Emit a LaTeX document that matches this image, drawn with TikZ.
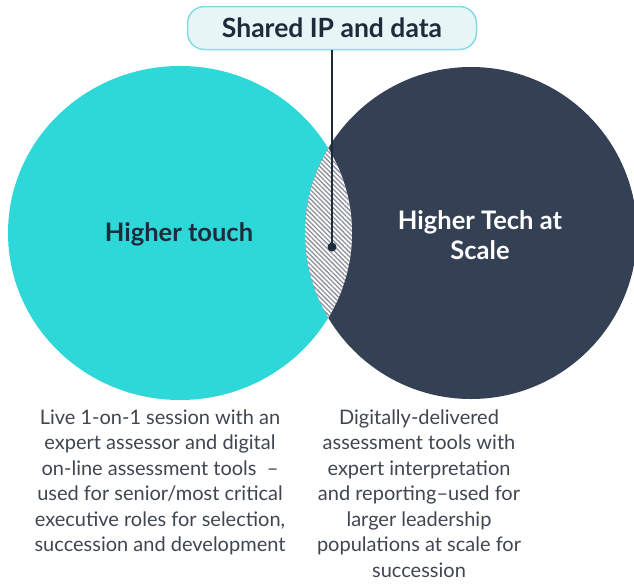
\documentclass[tikz,border=0pt]{standalone}
\usepackage{fontspec}
\setmainfont{Lato}
\usetikzlibrary{patterns.meta}
\definecolor{cyanc}{HTML}{2ED8D8}
\definecolor{navyc}{HTML}{344155}
\definecolor{inkc}{HTML}{1D2B3A}
\definecolor{bodyc}{HTML}{3F4650}
\definecolor{boxfill}{HTML}{E6F6F7}
\definecolor{boxline}{HTML}{86DCE2}
\definecolor{hatchc}{HTML}{8C919A}
\tikzset{
  sharedbox/.style={draw=boxline, line width=1.5pt, fill=boxfill, rounded corners=17pt,
    minimum width=289pt, minimum height=43pt, inner sep=0pt,
    font=\fontsize{26.5}{30}\selectfont\bfseries, text=inkc},
  circlabel/.style={font=\fontsize{25.5}{30}\selectfont\bfseries, align=center},
  bodytext/.style={font=\fontsize{20}{25.5}\selectfont, text=bodyc, align=center},
  dotnode/.style={circle, fill=inkc, minimum size=9pt, inner sep=0pt},
}
\begin{document}
\begin{tikzpicture}[x=1pt,y=-1pt]
\useasboundingbox (0,0) rectangle (634,584);
% circles
\fill[cyanc] (180,233) ellipse [x radius=172, y radius=167];
\fill[navyc] (471,233) circle [radius=166];
\begin{scope}
  \clip (180,233) ellipse [x radius=172, y radius=167];
  \fill[white] (471,233) circle [radius=166];
  \fill[pattern={Lines[angle=-45,distance=3.3pt,line width=1.3pt]}, pattern color=hatchc]
    (471,233) circle [radius=166];
\end{scope}
% labels
\node[circlabel, text=inkc] (touch) at (179,234) {Higher touch};
\node[circlabel, text=white] (tech) at (480,235) {Higher Tech at\\Scale};
% shared box and connector
\node[sharedbox] (shared) at (332,28) {Shared IP and data};
\node[dotnode] (dot) at (332,247) {};
\draw[inkc, line width=1.4pt] (shared.south -| dot) -- (dot.center);
% body texts
\node[bodytext, anchor=north] (ltext) at (160,406) {Live 1-on-1 session with an\\expert assessor and digital\\on-line assessment tools~~--\\used for senior/most critical\\executive roles for selection,\\succession and development};
\node[bodytext, anchor=north] (rtext) at (419,406) {Digitally-delivered\\assessment tools with\\expert interpretation\\and reporting--used for\\larger leadership\\populations at scale for\\succession};
\end{tikzpicture}
\end{document}
